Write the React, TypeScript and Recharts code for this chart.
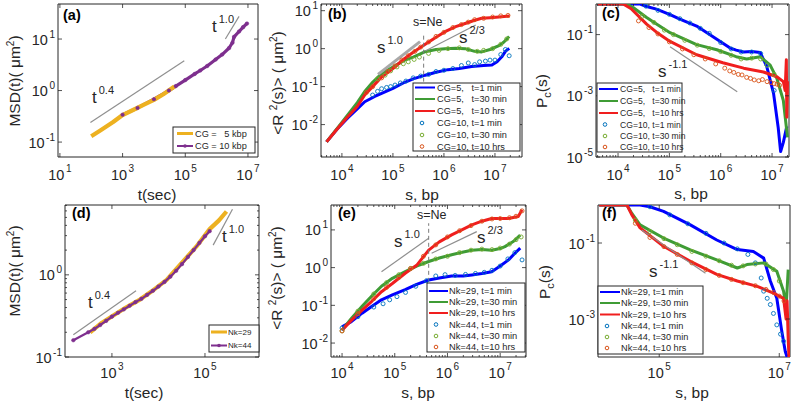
import React from 'react';
import { ComposedChart, Line, Scatter, XAxis, YAxis, ReferenceLine, ReferenceArea } from 'recharts';

type Pt = [number, number];
const FONT = '"Liberation Sans", Arial, Helvetica, sans-serif';
const INK = '#262626';
const COL = {
  blue: '#0000ff', green: '#3f9c35', red: '#f01e1e',
  cBlue: '#0072bd', cGreen: '#77ac30', cRed: '#d95319',
  yellow: '#edb120', purple: '#7e2f8e', guide: '#8f8f8f',
};

// ---------- panel (a) ----------
const aCG5: Pt[] = [[100, 0.13], [200, 0.17], [500, 0.245], [1000, 0.335], [2000, 0.41], [5000, 0.54], [1e4, 0.66], [2e4, 0.85], [4.5e4, 1.2]];
const aCG10: Pt[] = [[1000, 0.34], [3000, 0.46], [1e4, 0.68], [3e4, 1.0], [5e4, 1.22], [1e5, 1.6], [2e5, 2.1], [3e5, 2.45], [5e5, 3.0], [9.3e5, 4.0], [1.5e6, 5.0], [2.5e6, 6.7], [3.2e6, 8.5], [3.6e6, 11], [5.2e6, 14], [7e6, 17], [9.3e6, 20]];
const aXTicks = [10, 1e3, 1e5, 1e7];
const aXExp = ['1', '3', '5', '7'];
const aYTicks = [0.1, 1, 10];
const aYExp = ['-1', '0', '1'];

// ---------- panel (b) ----------
const bBlue: Pt[] = [[5e3, 3.5e-3], [8e3, 7.5e-3], [1.3e4, 0.015], [2e4, 0.026], [2.8e4, 0.04], [4.4e4, 0.055], [6e4, 0.066], [1e5, 0.09], [1.7e5, 0.13], [2.5e5, 0.16], [4.3e5, 0.2], [7e5, 0.24], [1.2e6, 0.28], [2e6, 0.3], [3.5e6, 0.34], [6e6, 0.36], [8.7e6, 0.37], [1.1e7, 0.45], [1.35e7, 0.6], [1.6e7, 0.85], [1.9e7, 1.02]];
const bGreen: Pt[] = [[5e3, 3.5e-3], [8e3, 7.8e-3], [1.3e4, 0.018], [2e4, 0.038], [2.8e4, 0.074], [4e4, 0.13], [6e4, 0.22], [1e5, 0.33], [1.7e5, 0.5], [2.5e5, 0.6], [4.3e5, 0.83], [7e5, 0.95], [1.05e6, 1.0], [1.7e6, 1.02], [2.6e6, 1.0], [4e6, 0.85], [5.5e6, 0.82], [8e6, 0.95], [1.2e7, 1.2], [1.5e7, 1.5], [1.9e7, 2.1]];
const bRed: Pt[] = [[5e3, 3.5e-3], [8e3, 7.5e-3], [1.3e4, 0.016], [2e4, 0.03], [2.8e4, 0.06], [4e4, 0.1], [6e4, 0.18], [1e5, 0.3], [1.7e5, 0.55], [2.5e5, 0.8], [4.3e5, 1.3], [7e5, 2.0], [1.05e6, 2.8], [1.7e6, 3.8], [2.6e6, 4.6], [4e6, 5.6], [5.5e6, 6.3], [8e6, 6.5], [1.2e7, 6.8], [1.5e7, 7.0], [1.95e7, 7.2]];
const bBlueC: Pt[] = [[4e4, 0.06], [5e4, 0.075], [6e4, 0.088], [7.5e4, 0.095], [9e4, 0.1], [1.1e5, 0.11], [1.4e5, 0.125], [1.8e5, 0.14], [2.5e5, 0.17], [3.5e5, 0.19], [5e5, 0.21], [7e5, 0.25], [1e6, 0.27], [1.5e6, 0.3], [2.2e6, 0.36], [3e6, 0.42], [4e6, 0.38], [5e6, 0.45], [6.5e6, 0.47], [8e6, 0.5], [1e7, 0.5], [1.3e7, 0.7], [1.6e7, 0.95], [1.9e7, 0.65]];
const bGreenC: Pt[] = [[5e4, 0.16], [7e4, 0.2], [9e4, 0.26], [1.2e5, 0.33], [1.6e5, 0.4], [2e5, 0.45], [2.6e5, 0.52], [3.3e5, 0.6], [5e5, 0.75], [8e5, 0.9], [1.2e6, 1.0], [2e6, 1.05], [3e6, 0.95], [4.5e6, 0.85], [6e6, 0.9], [9e6, 1.0], [1.3e7, 1.3], [1.7e7, 1.8]];
const bRedC: Pt[] = [[3e4, 0.07], [4e4, 0.1], [6e4, 0.17], [8e4, 0.25], [1.1e5, 0.35], [1.5e5, 0.5], [2e5, 0.65], [2.7e5, 0.85], [3.5e5, 1.1], [5e5, 1.5], [7e5, 2.1], [1e6, 2.7], [1.5e6, 3.6], [2.2e6, 4.3], [3e6, 5.0], [4e6, 5.8], [6e6, 6.3], [9e6, 6.8], [1.3e7, 7.3], [1.8e7, 7.5]];
const sTicks = [1e4, 1e5, 1e6, 1e7];
const sExp = ['4', '5', '6', '7'];
const rTicks = [0.01, 0.1, 1, 10];
const rExp = ['-2', '-1', '0', '1'];

// ---------- panel (c) ----------
const cBlue: Pt[] = [[4e3, 1], [2.7e4, 1], [3.6e4, 0.83], [5.6e4, 0.68], [1.03e5, 0.45], [1.6e5, 0.32], [3.4e5, 0.19], [8.4e5, 0.07], [1.5e6, 0.037], [2e6, 0.031], [2.8e6, 0.027], [4e6, 0.028], [5.9e6, 0.026], [7.9e6, 9e-3], [1.07e7, 1.2e-3], [1.32e7, 9e-5], [1.47e7, 1.5e-5], [1.66e7, 3e-5], [1.94e7, 1e-4]];
const cGreen: Pt[] = [[4e3, 1], [1.48e4, 1], [2e4, 0.75], [3.6e4, 0.36], [5.6e4, 0.22], [1.03e5, 0.115], [3.4e5, 0.047], [8.4e5, 0.032], [2e6, 0.019], [3.2e6, 0.016], [5.9e6, 0.019], [9.2e6, 0.01], [1.24e7, 3.7e-3], [1.66e7, 7e-4], [2e7, 4.4e-5]];
const cRed: Pt[] = [[4e3, 1], [1.26e4, 1], [1.8e4, 0.7], [3.6e4, 0.22], [5.6e4, 0.12], [1.03e5, 0.06], [3.4e5, 0.022], [1.1e6, 0.012], [2.8e6, 8e-3], [6.8e6, 6e-3], [1.24e7, 4.2e-3], [1.66e7, 2.9e-3], [1.8e7, 1.5e-3], [1.9e7, 0.015], [1.94e7, 2e-4], [2e7, 3e-3]];
const cBlueC: Pt[] = [[3.5e4, 0.85], [6e4, 0.62], [1e5, 0.46], [1.6e5, 0.33], [2.5e5, 0.24], [4e5, 0.16], [6e5, 0.11], [1e6, 0.055], [1.6e6, 0.034], [2.5e6, 0.027], [4e6, 0.027], [6e6, 0.024], [8e6, 0.01], [1.1e7, 1.5e-3]];
const cGreenC: Pt[] = [[3e4, 0.4], [5e4, 0.25], [8e4, 0.14], [1.2e5, 0.1], [2e5, 0.065], [3.5e5, 0.045], [6e5, 0.035], [1e6, 0.028], [1.6e6, 0.021], [2.5e6, 0.016], [4e6, 0.017], [6e6, 0.016], [8e6, 0.01], [1.1e7, 5e-3]];
const cRedC: Pt[] = [[2.5e4, 0.28], [4e4, 0.17], [6e4, 0.105], [1e5, 0.058], [1.8e5, 0.034], [3e5, 0.022], [5e5, 0.016], [8e5, 0.011], [1.2e6, 0.008], [1.5e6, 0.0065], [1.8e6, 0.0058], [2.2e6, 0.005], [2.6e6, 0.0048], [3.2e6, 0.004], [3.8e6, 0.0037], [4.5e6, 0.0033], [5.5e6, 0.0031], [6.5e6, 0.0034], [8e6, 0.0029], [9.5e6, 0.0027], [1.1e7, 0.0025], [1.25e7, 0.0024], [1.4e7, 0.0022]];
const pTicks = [1e-5, 1e-3, 1e-1];
const pExp = ['-5', '-3', '-1'];

// ---------- panel (d) ----------
const dNk29: Pt[] = [[340, 0.2], [600, 0.26], [1070, 0.32], [2000, 0.4], [4000, 0.5], [8000, 0.66], [1.5e4, 0.87], [2.9e4, 1.32], [6.5e4, 2.2], [1.26e5, 3.6], [2e5, 4.6], [2.9e5, 5.9]];
const dNk44: Pt[] = [[148, 0.16], [310, 0.2], [420, 0.22], [560, 0.245], [750, 0.275], [1000, 0.31], [1350, 0.345], [1800, 0.38], [2400, 0.42], [3200, 0.465], [4300, 0.51], [5700, 0.57], [7600, 0.64], [1e4, 0.72], [1.35e4, 0.82], [1.8e4, 0.95], [2.4e4, 1.12], [3.2e4, 1.35], [4.3e4, 1.65], [5.7e4, 2.0], [7.6e4, 2.45], [1e5, 2.95], [1.26e5, 3.4]];
const dXTicks = [1e3, 1e5];
const dXExp = ['3', '5'];
const dYTicks = [0.1, 1];
const dYExp = ['-1', '0'];

// ---------- panel (e) ----------
const eBlue: Pt[] = [[1e4, 0.027], [1.5e4, 0.037], [2.4e4, 0.062], [3.7e4, 0.095], [5.6e4, 0.14], [9e4, 0.19], [1.58e5, 0.26], [2.6e5, 0.36], [4.4e5, 0.47], [7e5, 0.53], [1.2e6, 0.6], [2e6, 0.6], [2.9e6, 0.64], [4.5e6, 0.7], [6.9e6, 0.78], [1e7, 1.1], [1.44e7, 1.6], [1.9e7, 2.4], [2.4e7, 3.3]];
const eGreen: Pt[] = [[1e4, 0.022], [1.5e4, 0.045], [2.4e4, 0.094], [3.7e4, 0.18], [5.6e4, 0.32], [9e4, 0.52], [1.58e5, 0.78], [2.6e5, 1.1], [4.4e5, 1.45], [7e5, 1.8], [1.2e6, 2.2], [2e6, 2.6], [2.9e6, 2.9], [4.5e6, 3.0], [6.9e6, 2.9], [1e7, 3.2], [1.23e7, 3.6], [1.8e7, 5.0], [2.4e7, 7.3]];
const eRed: Pt[] = [[1e4, 0.022], [1.5e4, 0.04], [2.4e4, 0.075], [3.7e4, 0.13], [5.6e4, 0.23], [9e4, 0.38], [1.58e5, 0.71], [2.6e5, 1.15], [4.4e5, 2.9], [7e5, 4.8], [1.2e6, 7.4], [2e6, 10.5], [2.9e6, 13.6], [4.5e6, 17], [6.9e6, 20], [1e7, 20], [1.44e7, 20], [2.2e7, 22.6], [2.6e7, 34]];
const eBlueC: Pt[] = [[1e4, 0.025], [2e4, 0.05], [4e4, 0.09], [6e4, 0.11], [8e4, 0.14], [1.1e5, 0.17], [1.6e5, 0.22], [2.5e5, 0.32], [4e5, 0.45], [6e5, 0.6], [9e5, 0.65], [1.4e6, 0.62], [2.2e6, 0.66], [3.4e6, 0.7], [5e6, 0.75], [7e6, 0.85], [1e7, 1.1], [1.4e7, 1.7], [1.9e7, 2.5], [2.6e7, 1.6]];
const eGreenC: Pt[] = [[1e4, 0.021], [2e4, 0.07], [4e4, 0.2], [7e4, 0.4], [1.2e5, 0.65], [2e5, 0.95], [3.5e5, 1.3], [6e5, 1.7], [1e6, 2.0], [1.7e6, 2.5], [2.8e6, 2.9], [4.5e6, 3.1], [7e6, 3.0], [1e7, 3.3], [1.5e7, 4.2], [2e7, 5.5], [2.5e7, 6.5]];
const eRedC: Pt[] = [[1e4, 0.021], [2e4, 0.06], [4e4, 0.15], [7e4, 0.3], [1.2e5, 0.55], [2e5, 0.95], [3.5e5, 2.0], [6e5, 4.0], [1e6, 6.5], [1.7e6, 9.5], [2.8e6, 13], [4.5e6, 17], [7e6, 19.5], [1e7, 20], [1.5e7, 21], [2e7, 23], [2.6e7, 32]];

// ---------- panel (f) ----------
const fBlue: Pt[] = [[1e4, 1], [4.8e4, 1], [7e4, 0.9], [1.18e5, 0.68], [3.3e5, 0.3], [9.1e5, 0.12], [2e6, 0.067], [3.7e6, 0.06], [5.5e6, 0.04], [7.1e6, 0.01], [9.1e6, 3.5e-3], [1.1e7, 4.8e-4], [1.26e7, 1.4e-4], [1.35e7, 1e-4]];
const fGreen: Pt[] = [[1e4, 1], [2.9e4, 1], [3.5e4, 0.6], [4.8e4, 0.3], [1.18e5, 0.135], [3.3e5, 0.066], [9.1e5, 0.036], [2e6, 0.022], [2.9e6, 0.027], [5.5e6, 0.03], [9.1e6, 0.018], [1.18e7, 5.4e-3], [1.3e7, 2e-3], [1.41e7, 0.02]];
const fRed: Pt[] = [[1e4, 1], [2.9e4, 1], [3.5e4, 0.55], [4.8e4, 0.25], [1.18e5, 0.082], [3.3e5, 0.033], [9.1e5, 0.015], [2e6, 0.01], [4.3e6, 7.2e-3], [8e6, 4.8e-3], [1.18e7, 3.5e-3], [1.3e7, 1e-3], [1.35e7, 3e-3], [1.41e7, 3e-4], [1.45e7, 1e-4]];
const fBlueC: Pt[] = [[7e4, 0.9], [1.5e5, 0.55], [3e5, 0.32], [6e5, 0.18], [1.2e6, 0.1], [2e6, 0.07], [3e6, 0.05], [4e6, 0.03], [5e6, 0.012], [5.5e6, 5.4e-3], [6.3e6, 3.5e-3], [7.1e6, 2.4e-3], [8e6, 1.4e-3], [9.1e6, 7e-4], [1.05e7, 4e-4], [1.18e7, 2.6e-4]];
const fGreenC: Pt[] = [[4e4, 0.4], [7e4, 0.2], [1.2e5, 0.13], [2e5, 0.09], [3.5e5, 0.06], [6e5, 0.045], [1e6, 0.034], [1.6e6, 0.026], [2.5e6, 0.025], [4e6, 0.028], [6e6, 0.028], [8e6, 0.02], [1e7, 0.01]];
const fRedC: Pt[] = [[4e4, 0.33], [7e4, 0.14], [1.2e5, 0.08], [2e5, 0.05], [3.5e5, 0.03], [6e5, 0.02], [1e6, 0.014], [1.6e6, 0.011], [2.5e6, 0.009], [4e6, 0.0075], [6e6, 0.006], [8e6, 0.005], [1e7, 0.004], [1.2e7, 0.003]];
const fXTicks = [1e5, 1e7];
const fXExp = ['5', '7'];
const fYTicks = [1e-3, 1e-1];
const fYExp = ['-3', '-1'];

// legend labels
const legA = ['CG =   5 kbp', 'CG = 10 kbp'];
const legB = ['CG=5,   t=1 min', 'CG=5,   t=30 min', 'CG=5,   t=10 hrs', 'CG=10, t=1 min', 'CG=10, t=30 min', 'CG=10, t=10 hrs'];
const legD = ['Nk=29', 'Nk=44'];
const legE = ['Nk=29, t=1 min', 'Nk=29, t=30 min', 'Nk=29, t=10 hrs', 'Nk=44, t=1 min', 'Nk=44, t=30 min', 'Nk=44, t=10 hrs'];

const minorMults = [2, 3, 4, 5, 6, 7, 8, 9];
function minorTicks(starts: number[], dom: [number, number]): number[] {
  const out: number[] = [];
  starts.forEach((s) => minorMults.forEach((m) => { const v = s * m; if (v > dom[0] && v < dom[1]) out.push(v); }));
  return out;
}

const pts = (a: Pt[]) => a.map(([x, y]) => ({ x, y }));

interface Series { data: Pt[]; color: string; width?: number; dot?: boolean; }
interface Guide { seg: [Pt, Pt]; width?: number; color?: string; dash?: string; }
interface PanelCfg {
  x0: number; y0: number; w: number; h: number;
  xDom: [number, number]; yDom: [number, number];
  xTicks: number[]; xExp: string[]; xMinor: number[];
  yTicks: number[]; yExp: string[]; yMinor: number[];
  lines: Series[]; circles: Series[]; guides: Guide[]; xGap: number;
}

function Panel({ c }: { c: PanelCfg }) {
  const ML = 45, MT = 5, MR = 5, XH = 30;
  const xt = [...c.xTicks, ...c.xMinor];
  const yt = [...c.yTicks, ...c.yMinor];
  const renderX = (p: any) => {
    const v = p.payload?.value;
    const i = c.xTicks.indexOf(v);
    const len = i >= 0 ? 4 : 2;
    return (
      <g>
        <line x1={p.x} x2={p.x} y1={p.y} y2={p.y - len} stroke={INK} strokeWidth={0.8} />
        <line x1={p.x} x2={p.x} y1={p.y - c.h} y2={p.y - c.h + len} stroke={INK} strokeWidth={0.8} />
        {i >= 0 && (
          <text x={p.x} y={p.y + c.xGap} textAnchor="middle" fontFamily={FONT} fontSize={14.5} fill={INK}>
            10<tspan dx={1.5} dy={-8} fontSize={10}>{c.xExp[i]}</tspan>
          </text>
        )}
      </g>
    );
  };
  const renderY = (p: any) => {
    const v = p.payload?.value;
    const i = c.yTicks.indexOf(v);
    const len = i >= 0 ? 4 : 2;
    return (
      <g>
        <line x1={p.x} x2={p.x + len} y1={p.y} y2={p.y} stroke={INK} strokeWidth={0.8} />
        <line x1={p.x + c.w} x2={p.x + c.w - len} y1={p.y} y2={p.y} stroke={INK} strokeWidth={0.8} />
        {i >= 0 && (
          <text x={p.x - 3} y={p.y + 5.5} textAnchor="end" fontFamily={FONT} fontSize={14.5} fill={INK}>
            10<tspan dx={1.5} dy={-7} fontSize={10}>{c.yExp[i]}</tspan>
          </text>
        )}
      </g>
    );
  };
  return (
    <div style={{ position: 'absolute', left: c.x0 - ML, top: c.y0 - MT }}>
      <ComposedChart width={c.w + ML + MR} height={c.h + MT + XH} margin={{ top: MT, right: MR, bottom: 0, left: 0 }}>
        <XAxis type="number" dataKey="x" scale="log" domain={c.xDom} allowDataOverflow ticks={xt} interval={0}
          tick={renderX} tickLine={false} axisLine={false} tickSize={0} tickMargin={0} height={XH} />
        <YAxis type="number" dataKey="y" scale="log" domain={c.yDom} allowDataOverflow ticks={yt} interval={0}
          tick={renderY} tickLine={false} axisLine={false} tickSize={0} tickMargin={0} width={ML} />
        {c.lines.map((s, k) => (
          <Line key={'l' + k} data={pts(s.data)} dataKey="y" stroke={s.color} strokeWidth={s.width ?? 3}
            dot={s.dot ? { r: 1.8, fill: s.color, stroke: s.color, strokeWidth: 0.5 } : false}
            isAnimationActive={false} strokeLinejoin="round" />
        ))}
        {c.circles.map((s, k) => (
          <Scatter key={'s' + k} data={pts(s.data)} dataKey="y" isAnimationActive={false}
            shape={(p: any) => <circle cx={p.cx} cy={p.cy} r={2} fill="none" stroke={s.color} strokeWidth={0.9} />} />
        ))}
        {c.guides.map((g, k) => (
          <ReferenceLine key={'g' + k} segment={[{ x: g.seg[0][0], y: g.seg[0][1] }, { x: g.seg[1][0], y: g.seg[1][1] }]}
            stroke={g.color ?? COL.guide} strokeWidth={g.width ?? 1.2} strokeDasharray={g.dash} ifOverflow="visible" />
        ))}
        <ReferenceArea x1={c.xDom[0]} x2={c.xDom[1]} y1={c.yDom[0]} y2={c.yDom[1]} fill="none" fillOpacity={0}
          stroke={INK} strokeWidth={1} ifOverflow="visible" />
      </ComposedChart>
    </div>
  );
}

const dec3to7 = [1e3, 1e4, 1e5, 1e6, 1e7];

const panels: PanelCfg[] = [
  {
    x0: 58, y0: 4, w: 200, h: 153, xDom: [8.7, 2.09e7], yDom: [0.0513, 47.9],
    xTicks: aXTicks, xExp: aXExp, xMinor: [], yTicks: aYTicks, yExp: aYExp, yMinor: [], xGap: 23,
    lines: [{ data: aCG10, color: COL.purple, width: 3.2, dot: true }, { data: aCG5, color: COL.yellow, width: 4.2 }],
    circles: [],
    guides: [{ seg: [[94, 0.24], [9.3e4, 3.8]] }, { seg: [[1.9e6, 10], [5.2e6, 27.5]] }],
  },
  {
    x0: 321, y0: 4, w: 201, h: 153, xDom: [3890, 3.39e7], yDom: [1.4e-3, 15],
    xTicks: sTicks, xExp: sExp, xMinor: minorTicks(dec3to7, [3890, 3.39e7]), yTicks: rTicks, yExp: rExp, yMinor: [], xGap: 23,
    lines: [{ data: bBlue, color: COL.blue }, { data: bGreen, color: COL.green }, { data: bRed, color: COL.red }],
    circles: [{ data: bBlueC, color: COL.cBlue }, { data: bGreenC, color: COL.cGreen }, { data: bRedC, color: COL.cRed }],
    guides: [
      { seg: [[5.1e4, 0.21], [3.4e5, 1.53]], width: 3, color: '#a8a8a8' },
      { seg: [[4.3e5, 0.87], [4.2e6, 4.2]] },
      { seg: [[4e5, 0.135], [4e5, 2.4]], dash: '4 3', color: '#7a7a7a', width: 1 },
    ],
  },
  {
    x0: 596, y0: 4, w: 193, h: 153, xDom: [3720, 2.14e7], yDom: [1e-5, 1],
    xTicks: sTicks, xExp: sExp, xMinor: minorTicks(dec3to7, [3720, 2.14e7]), yTicks: pTicks, yExp: pExp, yMinor: [], xGap: 23,
    lines: [{ data: cBlue, color: COL.blue }, { data: cGreen, color: COL.green }, { data: cRed, color: COL.red }],
    circles: [{ data: cBlueC, color: COL.cBlue }, { data: cGreenC, color: COL.cGreen }, { data: cRedC, color: COL.cRed }],
    guides: [{ seg: [[1.03e5, 0.04], [2.1e6, 1.35e-3]] }],
  },
  {
    x0: 65, y0: 205, w: 194, h: 152, xDom: [98, 1.45e6], yDom: [0.1, 7.08],
    xTicks: dXTicks, xExp: dXExp, xMinor: [], yTicks: dYTicks, yExp: dYExp, yMinor: minorTicks([0.1, 1], [0.1, 7.08]), xGap: 21,
    lines: [{ data: dNk29, color: COL.yellow, width: 4.2 }, { data: dNk44, color: COL.purple, width: 2.2, dot: true }],
    circles: [],
    guides: [{ seg: [[148, 0.186], [3.3e3, 0.64]] }, { seg: [[1.5e5, 2.3], [3.9e5, 6.3]] }],
  },
  {
    x0: 331, y0: 205, w: 195, h: 152, xDom: [6170, 3.09e7], yDom: [4.27e-3, 45.7],
    xTicks: sTicks, xExp: sExp, xMinor: minorTicks(dec3to7, [6170, 3.09e7]), yTicks: rTicks, yExp: rExp, yMinor: [], xGap: 21,
    lines: [{ data: eBlue, color: COL.blue }, { data: eGreen, color: COL.green }, { data: eRed, color: COL.red }],
    circles: [{ data: eBlueC, color: COL.cBlue }, { data: eGreenC, color: COL.cGreen }, { data: eRedC, color: COL.cRed }],
    guides: [
      { seg: [[5.6e4, 0.78], [4.4e5, 6.0]] },
      { seg: [[5e5, 2.4], [3.6e6, 9]] },
      { seg: [[4.4e5, 0.42], [4.4e5, 15]], dash: '4 3', color: '#7a7a7a', width: 1 },
    ],
  },
  {
    x0: 598, y0: 205, w: 192, h: 152, xDom: [9550, 1.51e7], yDom: [1e-4, 1],
    xTicks: fXTicks, xExp: fXExp, xMinor: [], yTicks: fYTicks, yExp: fYExp, yMinor: [], xGap: 21,
    lines: [{ data: fBlue, color: COL.blue }, { data: fGreen, color: COL.green }, { data: fRed, color: COL.red }],
    circles: [{ data: fBlueC, color: COL.cBlue }, { data: fGreenC, color: COL.cGreen }, { data: fRedC, color: COL.cRed }],
    guides: [{ seg: [[5.1e4, 0.22], [5.9e5, 0.016]] }],
  },
];

// ---------- overlay text & legends ----------
function Sup({ x, y, base, sup, fs = 17, sfs = 11, dy = -9 }: { x: number; y: number; base: string; sup: string; fs?: number; sfs?: number; dy?: number }) {
  return (
    <text x={x} y={y} fontFamily={FONT} fontSize={fs} fill={INK}>
      {base}<tspan dx={2} dy={dy} fontSize={sfs}>{sup}</tspan>
    </text>
  );
}

interface LegRow { label: string; color: string; kind: 'line' | 'circle' | 'linedot'; width?: number; }
function LegendBox({ x, y, w, h, rowsY, rows, lx, cx, tx, fs }: { x: number; y: number; w: number; h: number; rowsY: number[]; rows: LegRow[]; lx: [number, number]; cx: number; tx: number; fs: number }) {
  return (
    <g>
      <rect x={x} y={y} width={w} height={h} fill="#fff" stroke={INK} strokeWidth={1} />
      {rows.map((r, i) => (
        <g key={i}>
          {r.kind !== 'circle' && <line x1={lx[0]} x2={lx[1]} y1={rowsY[i]} y2={rowsY[i]} stroke={r.color} strokeWidth={r.width ?? 2} />}
          {r.kind === 'linedot' && <circle cx={(lx[0] + lx[1]) / 2} cy={rowsY[i]} r={1.8} fill={r.color} />}
          {r.kind === 'circle' && <circle cx={cx} cy={rowsY[i]} r={1.8} fill="none" stroke={r.color} strokeWidth={1} />}
          <text x={tx} y={rowsY[i] + fs * 0.36} fontFamily={FONT} fontSize={fs} fill={INK} style={{ whiteSpace: 'pre' }}>{r.label}</text>
        </g>
      ))}
    </g>
  );
}

const sixRows = (labels: string[]): LegRow[] => [
  { label: labels[0], color: COL.blue, kind: 'line' },
  { label: labels[1], color: COL.green, kind: 'line' },
  { label: labels[2], color: COL.red, kind: 'line' },
  { label: labels[3], color: COL.cBlue, kind: 'circle' },
  { label: labels[4], color: COL.cGreen, kind: 'circle' },
  { label: labels[5], color: COL.cRed, kind: 'circle' },
];

function YTitle({ x, y, children }: { x: number; y: number; children: React.ReactNode }) {
  return (
    <text x={x} y={y} transform={`rotate(-90 ${x} ${y})`} textAnchor="middle" fontFamily={FONT} fontSize={15.5} fill={INK}>
      {children}
    </text>
  );
}
function XTitle({ x, y, t }: { x: number; y: number; t: string }) {
  return <text x={x} y={y} textAnchor="middle" fontFamily={FONT} fontSize={15.5} fill={INK}>{t}</text>;
}
function PLabel({ x, y, t }: { x: number; y: number; t: string }) {
  return <text x={x} y={y} fontFamily={FONT} fontSize={14.5} fontWeight="bold" fill="#000">{t}</text>;
}

function Overlay() {
  const msd = (<>MSD(t)( μm<tspan dy={-6} fontSize={10}>2</tspan><tspan dy={6}>)</tspan></>);
  const r2 = (<>&lt;R <tspan dy={-6} fontSize={10}>2</tspan><tspan dy={6}>(s)&gt; ( μm</tspan><tspan dy={-6} fontSize={10}>2</tspan><tspan dy={6}>)</tspan></>);
  const pc = (<>P<tspan dy={4} fontSize={11}>c</tspan><tspan dy={-4}>(s)</tspan></>);
  return (
    <svg width={800} height={405} style={{ position: 'absolute', left: 0, top: 0, pointerEvents: 'none' }}>
      <PLabel x={63} y={20} t="(a)" />
      <PLabel x={328} y={19} t="(b)" />
      <PLabel x={602} y={18} t="(c)" />
      <PLabel x={72} y={218} t="(d)" />
      <PLabel x={338} y={218} t="(e)" />
      <PLabel x={602} y={218} t="(f)" />

      <XTitle x={157} y={200} t="t(sec)" />
      <XTitle x={422} y={200} t="s, bp" />
      <XTitle x={691} y={199} t="s, bp" />
      <XTitle x={144} y={398} t="t(sec)" />
      <XTitle x={418} y={398} t="s, bp" />
      <XTitle x={692} y={398} t="s, bp" />

      <YTitle x={20} y={81}>{msd}</YTitle>
      <YTitle x={283} y={83}>{r2}</YTitle>
      <YTitle x={547} y={91}>{pc}</YTitle>
      <YTitle x={20} y={271}>{msd}</YTitle>
      <YTitle x={282} y={278}>{r2}</YTitle>
      <YTitle x={550} y={282}>{pc}</YTitle>

      <Sup x={92} y={103} base="t" sup="0.4" />
      <Sup x={212} y={32} base="t" sup="1.0" />
      <Sup x={377} y={53} base="s" sup="1.0" />
      <Sup x={459} y={43} base="s" sup="2/3" />
      <text x={413} y={26} fontFamily={FONT} fontSize={12.5} fill={INK}>s=Ne</text>
      <Sup x={658} y={77} base="s" sup="-1.1" />
      <Sup x={88} y={308} base="t" sup="0.4" />
      <Sup x={222} y={242} base="t" sup="1.0" />
      <Sup x={394} y={247} base="s" sup="1.0" />
      <Sup x={477} y={243} base="s" sup="2/3" />
      <text x={417} y={219} fontFamily={FONT} fontSize={12.5} fill={INK}>s=Ne</text>
      <Sup x={649} y={277} base="s" sup="-1.1" />

      <LegendBox x={173} y={127} w={82} h={26} rowsY={[133.5, 146]} lx={[177, 193]} cx={185} tx={195} fs={9.2}
        rows={[{ label: legA[0], color: COL.yellow, kind: 'line', width: 3 }, { label: legA[1], color: COL.purple, kind: 'linedot', width: 2 }]} />
      <LegendBox x={413} y={83} w={107} h={68} rowsY={[87.5, 99, 111, 123, 135, 146.5]} lx={[415, 435]} cx={422} tx={437} fs={9.2}
        rows={sixRows(legB)} />
      <LegendBox x={597} y={83} w={85} h={69} rowsY={[89, 101, 113, 124.5, 136, 147]} lx={[599, 618]} cx={605} tx={620} fs={8.6}
        rows={sixRows(legB)} />
      <LegendBox x={209} y={325} w={50} h={27} rowsY={[332, 345.5]} lx={[211, 227]} cx={219} tx={228} fs={8}
        rows={[{ label: legD[0], color: COL.yellow, kind: 'line', width: 3 }, { label: legD[1], color: COL.purple, kind: 'linedot', width: 2 }]} />
      <LegendBox x={427} y={283} w={98} h={69} rowsY={[291, 302, 313, 324.5, 336, 347]} lx={[429, 448]} cx={436} tx={449} fs={9.3}
        rows={sixRows(legE)} />
      <LegendBox x={598} y={286} w={105} h={68} rowsY={[292, 303, 314.5, 326, 337, 348]} lx={[600, 620]} cx={607} tx={621} fs={9.2}
        rows={sixRows(legE)} />
    </svg>
  );
}

export default function App() {
  return (
    <div style={{ position: 'absolute', left: 0, top: 0, width: 800, height: 405, background: '#fff', overflow: 'hidden' }}>
      {panels.map((c, i) => <Panel key={i} c={c} />)}
      <Overlay />
    </div>
  );
}
